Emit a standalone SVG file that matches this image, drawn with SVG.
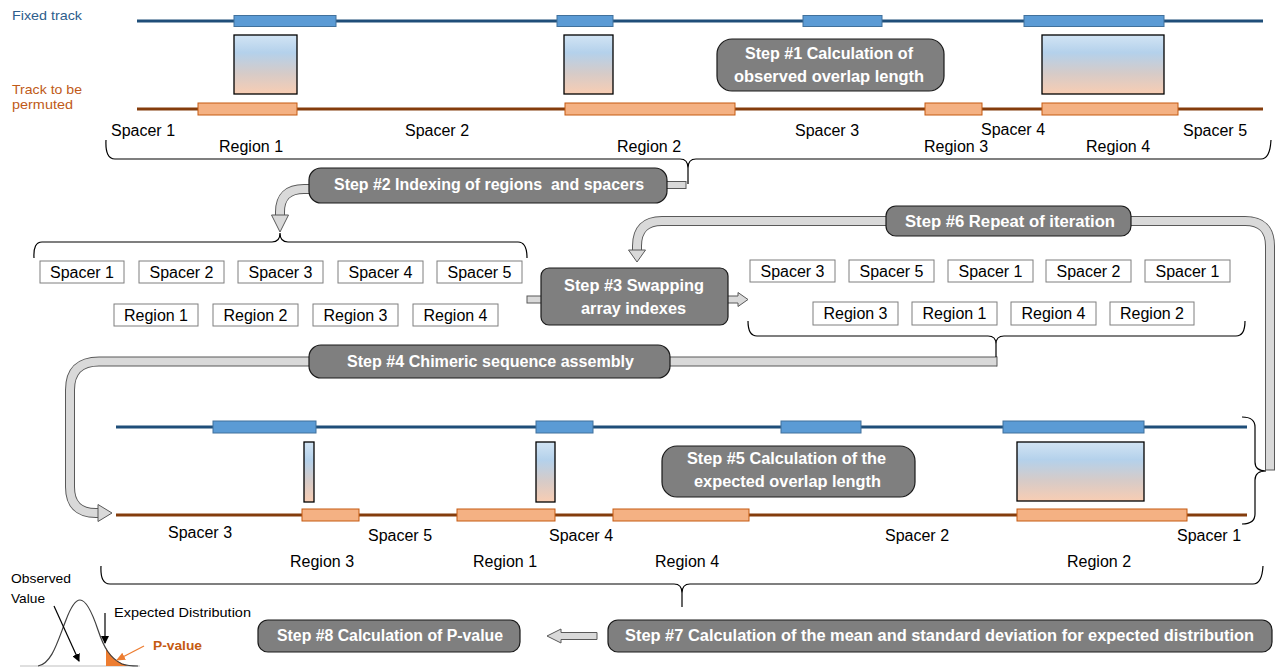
<svg xmlns="http://www.w3.org/2000/svg" width="1276" height="671" viewBox="0 0 1276 671">
<style>
.lbl{font-family:"Liberation Sans",Arial,sans-serif;font-size:16px;fill:#000}
.small{font-family:"Liberation Sans",Arial,sans-serif;font-size:13.5px}
.st{font-family:"Liberation Sans",Arial,sans-serif;font-size:16px;font-weight:bold;fill:#fff}
.step{fill:#7f7f7f;stroke:#1a1a1a;stroke-width:1.2}
.bl{stroke:#1f4e79;stroke-width:3;fill:none}
.ol{stroke:#843c0c;stroke-width:3;fill:none}
.bb{fill:#5b9bd5;stroke:#41719c;stroke-width:1}
.ob{fill:#f4b183;stroke:#c55a11;stroke-width:1}
.ov{fill:url(#g);stroke:#000;stroke-width:1.3}
.ib{fill:#fff;stroke:#7f7f7f;stroke-width:1}
.br{fill:none;stroke:#000;stroke-width:1.2}
.co{fill:none;stroke:#595959;stroke-width:10}
.ci{fill:none;stroke:#d9d9d9;stroke-width:8}
.ah{fill:#d9d9d9;stroke:#595959;stroke-width:1}
</style>
<defs>
<linearGradient id="g" x1="0" y1="0" x2="0" y2="1">
<stop offset="0" stop-color="#d2e4f4"/>
<stop offset="0.3" stop-color="#b4d1eb"/>
<stop offset="0.65" stop-color="#d6cbc8"/>
<stop offset="1" stop-color="#f8cdb3"/>
</linearGradient>
<marker id="ak" markerWidth="8" markerHeight="8" refX="7" refY="4" orient="auto" markerUnits="userSpaceOnUse"><path d="M0,0 L8,4 L0,8 z" fill="#000"/></marker>
<marker id="ao" markerWidth="9" markerHeight="8" refX="8" refY="4" orient="auto" markerUnits="userSpaceOnUse"><path d="M0,0 L9,4 L0,8 z" fill="#ed7d31"/></marker>
</defs>
<rect width="1276" height="671" fill="#fff"/>

<g id="observed-tracks">
<text class="small" x="12" y="20" fill="#2e5e8c" textLength="70" lengthAdjust="spacingAndGlyphs">Fixed track</text>
<text class="small" x="12" y="94" fill="#c05a18" textLength="70" lengthAdjust="spacingAndGlyphs">Track to be</text>
<text class="small" x="12" y="109" fill="#c05a18" textLength="61" lengthAdjust="spacingAndGlyphs">permuted</text>
<line class="bl" x1="137" y1="21" x2="1263" y2="21"/>
<rect class="bb" x="234" y="15.5" width="102" height="11"/>
<rect class="bb" x="557" y="15.5" width="56" height="11"/>
<rect class="bb" x="803" y="15.5" width="79" height="11"/>
<rect class="bb" x="1024" y="15.5" width="140" height="11"/>
<rect class="ov" x="234" y="35" width="63" height="59"/>
<rect class="ov" x="564" y="35" width="49" height="59"/>
<rect class="ov" x="1042" y="35" width="122" height="59"/>
<line class="ol" x1="137" y1="109" x2="1263" y2="109"/>
<rect class="ob" x="198" y="103" width="99" height="12"/>
<rect class="ob" x="565" y="103" width="170" height="12"/>
<rect class="ob" x="925" y="103" width="57" height="12"/>
<rect class="ob" x="1042" y="103" width="136" height="12"/>
<text class="lbl" x="111" y="136">Spacer 1</text>
<text class="lbl" x="405" y="136">Spacer 2</text>
<text class="lbl" x="795" y="136">Spacer 3</text>
<text class="lbl" x="981" y="135">Spacer 4</text>
<text class="lbl" x="1183" y="136">Spacer 5</text>
<text class="lbl" x="219" y="152">Region 1</text>
<text class="lbl" x="617" y="152">Region 2</text>
<text class="lbl" x="924" y="152">Region 3</text>
<text class="lbl" x="1086" y="152">Region 4</text>
<path class="br" d="M106 140 Q105 159 115 159 L680 159 Q688 159 688 168 L688 184 M688 168 Q688 159 696 159 L1261 159 Q1270 159 1271 140"/>
</g>

<g id="step1"><rect class="step" x="717" y="39" width="227" height="52" rx="15"/>
<text class="st" x="745" y="59" textLength="168" lengthAdjust="spacingAndGlyphs">Step #1 Calculation of</text>
<text class="st" x="734" y="82" textLength="190" lengthAdjust="spacingAndGlyphs">observed overlap length</text></g>

<g id="connectors">
<path class="co" d="M312 189 L304 189 Q280 189 280 212 L280 216"/>
<path class="ci" d="M312 189 L304 189 Q280 189 280 212 L280 217"/>
<polygon class="ah" points="271.5,215 288.5,215 280,232"/>
<rect class="ah" x="665" y="181.5" width="21" height="7"/>
<rect class="ah" x="527" y="296" width="15" height="7"/>
<polygon class="ah" points="727,296 738,296 738,292.5 748,299.5 738,306.5 738,303 727,303"/>
<path class="co" d="M997 361.5 L99 361.5 Q70 361.5 70 390 L70 487 Q70 513 96 513 L99 513"/>
<path class="ci" d="M997 361.5 L99 361.5 Q70 361.5 70 390 L70 487 Q70 513 96 513 L100 513"/>
<line x1="997" y1="356.5" x2="997" y2="366.5" stroke="#595959" stroke-width="1"/>
<polygon class="ah" points="98,504.5 98,521.5 112,513"/>
<path class="co" d="M1270 470 L1270 246 Q1270 221 1245 221 L662 221 Q637 221 637 246 L637 251"/>
<path class="ci" d="M1270 470 L1270 246 Q1270 221 1245 221 L662 221 Q637 221 637 246 L637 252"/>
<line x1="1265" y1="470" x2="1275" y2="470" stroke="#595959" stroke-width="1"/>
<polygon class="ah" points="628.5,250 645.5,250 637,262"/>
<polygon class="ah" points="547,636 561,629 561,632.5 597,632.5 597,639.5 561,639.5 561,643"/>
</g>

<g id="step2"><rect class="step" x="309" y="168" width="358" height="35" rx="12"/>
<text class="st" x="334" y="190" textLength="310" lengthAdjust="spacingAndGlyphs">Step #2 Indexing of regions&#160; and spacers</text></g>

<g id="index-array">
<path class="br" d="M34 258 Q33 242 42 242 L272 242 Q280 242 280 233 Q280 242 288 242 L518 242 Q527 242 527 258"/>
<rect class="ib" x="40" y="261" width="84" height="22"/><text class="lbl" x="82" y="278" text-anchor="middle">Spacer 1</text>
<rect class="ib" x="139" y="261" width="85" height="22"/><text class="lbl" x="181.5" y="278" text-anchor="middle">Spacer 2</text>
<rect class="ib" x="238" y="261" width="85" height="22"/><text class="lbl" x="280.5" y="278" text-anchor="middle">Spacer 3</text>
<rect class="ib" x="338" y="261" width="85" height="22"/><text class="lbl" x="380.5" y="278" text-anchor="middle">Spacer 4</text>
<rect class="ib" x="437" y="261" width="85" height="22"/><text class="lbl" x="479.5" y="278" text-anchor="middle">Spacer 5</text>
<rect class="ib" x="114" y="304" width="84" height="22"/><text class="lbl" x="156" y="321" text-anchor="middle">Region 1</text>
<rect class="ib" x="213" y="304" width="85" height="22"/><text class="lbl" x="255.5" y="321" text-anchor="middle">Region 2</text>
<rect class="ib" x="313" y="304" width="85" height="22"/><text class="lbl" x="355.5" y="321" text-anchor="middle">Region 3</text>
<rect class="ib" x="413" y="304" width="85" height="22"/><text class="lbl" x="455.5" y="321" text-anchor="middle">Region 4</text>
</g>

<g id="step3"><rect class="step" x="541" y="268" width="187" height="57" rx="8"/>
<text class="st" x="564" y="291" textLength="140" lengthAdjust="spacingAndGlyphs">Step #3 Swapping</text>
<text class="st" x="581" y="314" textLength="105" lengthAdjust="spacingAndGlyphs">array indexes</text></g>

<g id="swapped-array">
<rect class="ib" x="750" y="260" width="85" height="22"/><text class="lbl" x="792.5" y="277" text-anchor="middle">Spacer 3</text>
<rect class="ib" x="849" y="260" width="85" height="22"/><text class="lbl" x="891.5" y="277" text-anchor="middle">Spacer 5</text>
<rect class="ib" x="948" y="260" width="85" height="22"/><text class="lbl" x="990.5" y="277" text-anchor="middle">Spacer 1</text>
<rect class="ib" x="1046" y="260" width="85" height="22"/><text class="lbl" x="1088.5" y="277" text-anchor="middle">Spacer 2</text>
<rect class="ib" x="1145" y="260" width="85" height="22"/><text class="lbl" x="1187.5" y="277" text-anchor="middle">Spacer 1</text>
<rect class="ib" x="813" y="302" width="85" height="23"/><text class="lbl" x="855.5" y="319" text-anchor="middle">Region 3</text>
<rect class="ib" x="912" y="302" width="85" height="23"/><text class="lbl" x="954.5" y="319" text-anchor="middle">Region 1</text>
<rect class="ib" x="1011" y="302" width="85" height="23"/><text class="lbl" x="1053.5" y="319" text-anchor="middle">Region 4</text>
<rect class="ib" x="1110" y="302" width="84" height="23"/><text class="lbl" x="1152" y="319" text-anchor="middle">Region 2</text>
<path class="br" d="M748 321 Q748 336 757 336 L988 336 Q996 336 996 344 L996 357 M996 344 Q996 336 1004 336 L1236 336 Q1245 336 1245 321"/>
</g>

<g id="step6"><rect class="step" x="886" y="206" width="245" height="30" rx="10"/>
<text class="st" x="905" y="227" textLength="210" lengthAdjust="spacingAndGlyphs">Step #6 Repeat of iteration</text></g>

<g id="step4"><rect class="step" x="309" y="345" width="361" height="33" rx="12"/>
<text class="st" x="347" y="367" textLength="287" lengthAdjust="spacingAndGlyphs">Step #4 Chimeric sequence assembly</text></g>

<g id="chimeric-tracks">
<line class="bl" x1="116" y1="427" x2="1247" y2="427"/>
<rect class="bb" x="213" y="421" width="103" height="12"/>
<rect class="bb" x="536" y="421" width="57" height="12"/>
<rect class="bb" x="781" y="421" width="80" height="12"/>
<rect class="bb" x="1003" y="421" width="141" height="12"/>
<rect class="ov" x="304" y="442" width="10" height="60"/>
<rect class="ov" x="536" y="442" width="19" height="60"/>
<rect class="ov" x="1017" y="442" width="127" height="59"/>
<line class="ol" x1="116" y1="515" x2="1247" y2="515"/>
<rect class="ob" x="302" y="509" width="57" height="12"/>
<rect class="ob" x="457" y="509" width="98" height="12"/>
<rect class="ob" x="613" y="509" width="136" height="12"/>
<rect class="ob" x="1017" y="509" width="170" height="12"/>
<path class="br" d="M1242 417 Q1255 417 1255 427 L1255 462 Q1255 471 1266 471 M1255 480 Q1255 471 1266 471 M1255 480 L1255 514 Q1255 524 1242 524"/>
<text class="lbl" x="168" y="538">Spacer 3</text>
<text class="lbl" x="368" y="541">Spacer 5</text>
<text class="lbl" x="549" y="541">Spacer 4</text>
<text class="lbl" x="885" y="541">Spacer 2</text>
<text class="lbl" x="1177" y="541">Spacer 1</text>
<text class="lbl" x="290" y="567">Region 3</text>
<text class="lbl" x="473" y="567">Region 1</text>
<text class="lbl" x="655" y="567">Region 4</text>
<text class="lbl" x="1067" y="567">Region 2</text>
<path class="br" d="M101 566 Q100 584 110 584 L674 584 Q682 584 682 593 L682 607 M682 593 Q682 584 690 584 L1253 584 Q1262 584 1263 566"/>
</g>

<g id="step5"><rect class="step" x="662" y="446" width="253" height="51" rx="15"/>
<text class="st" x="687" y="464" textLength="199" lengthAdjust="spacingAndGlyphs">Step #5 Calculation of the</text>
<text class="st" x="694" y="487" textLength="187" lengthAdjust="spacingAndGlyphs">expected overlap length</text></g>

<g id="step7"><rect class="step" x="608" y="620" width="664" height="32" rx="10"/>
<text class="st" x="625" y="641" textLength="629" lengthAdjust="spacingAndGlyphs">Step #7 Calculation of the mean and standard deviation for expected distribution</text></g>

<g id="step8"><rect class="step" x="258" y="620" width="262" height="32" rx="10"/>
<text class="st" x="277" y="641" textLength="226" lengthAdjust="spacingAndGlyphs">Step #8 Calculation of P-value</text></g>

<g id="distribution">
<line x1="20" y1="666" x2="140" y2="666" stroke="#bfbfbf" stroke-width="1.2"/>
<path d="M106 648 C111 656 116 662 124 664 L128 666 L106 666 Z" fill="#ed7d31"/>
<path d="M38 666 C52 664 58 640 66 620 C72 604 76 600 80 600 C86 600 92 612 98 630 C104 648 110 658 122 664 C128 666 134 666 138 666" fill="none" stroke="#404040" stroke-width="1.2"/>
<text class="small" x="11" y="583" fill="#000" textLength="60" lengthAdjust="spacingAndGlyphs">Observed</text>
<text class="small" x="11" y="603" fill="#000" textLength="34" lengthAdjust="spacingAndGlyphs">Value</text>
<line x1="54" y1="606" x2="79" y2="661" stroke="#000" stroke-width="1.2" marker-end="url(#ak)"/>
<text class="small" x="114" y="617" fill="#000" textLength="137" lengthAdjust="spacingAndGlyphs">Expected Distribution</text>
<line x1="105" y1="613" x2="105" y2="643" stroke="#000" stroke-width="1.2" marker-end="url(#ak)"/>
<text x="153" y="650" font-family="Liberation Sans, Arial, sans-serif" font-size="13.5" font-weight="bold" fill="#c55a11" textLength="49" lengthAdjust="spacingAndGlyphs">P-value</text>
<line x1="144" y1="646" x2="117" y2="660" stroke="#ed7d31" stroke-width="1.3" marker-end="url(#ao)"/>
</g>
</svg>
